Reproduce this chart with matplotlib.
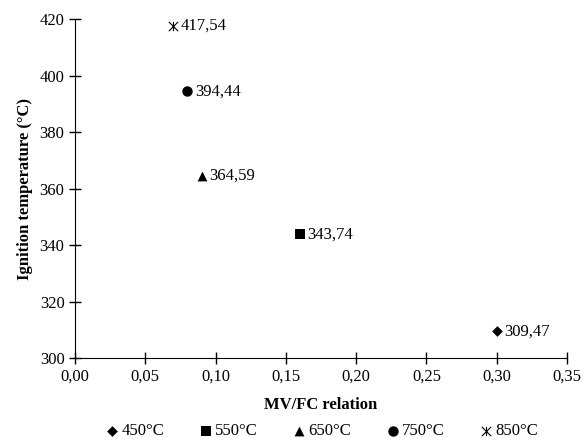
import matplotlib
matplotlib.use('Agg')
import matplotlib.pyplot as plt
from matplotlib.path import Path
from matplotlib.ticker import FuncFormatter, MultipleLocator

# Data
temps = ['450°C', '550°C', '650°C', '750°C', '850°C']
mv_fc = [0.30, 0.16, 0.09, 0.08, 0.07]
ignition = [309.47, 343.74, 364.59, 394.44, 417.54]

# X with a vertical bar, like the asterisk used for 850°C
star = Path([(-1, -1), (1, 1), (-1, 1), (1, -1), (0, -1), (0, 1)],
            [Path.MOVETO, Path.LINETO] * 3)
markers = ['D', 's', '^', 'o', star]
sizes = [30, 48, 50, 56, 45]

plt.rcParams['font.family'] = ['Liberation Serif', 'DejaVu Serif']
plt.rcParams['font.size'] = 12

fig = plt.figure(figsize=(5.83, 4.38), dpi=100)
ax = fig.add_axes([0.1286, 0.1826, 0.844, 0.774])

for i, (t, x, y) in enumerate(zip(temps, mv_fc, ignition)):
    is_star = i == len(temps) - 1
    ax.scatter(x, y, marker=markers[i], s=sizes[i], color='black',
               linewidths=0.8 if is_star else 0, label=t, zorder=3)
    ax.annotate(f'{y:.2f}'.replace('.', ','), (x, y), xytext=(5.5, 0),
                textcoords='offset points', va='center', ha='left', fontsize=12)

ax.set_xlim(0, 0.35)
ax.set_ylim(300, 420)
ax.xaxis.set_major_locator(MultipleLocator(0.05))
ax.yaxis.set_major_locator(MultipleLocator(20))
ax.xaxis.set_major_formatter(FuncFormatter(lambda v, p: f'{v:.2f}'.replace('.', ',')))
ax.yaxis.set_major_formatter(FuncFormatter(lambda v, p: f'{v:.0f}'))
ax.tick_params(direction='inout', length=9, width=1, labelsize=12, pad=3)

ax.spines['top'].set_visible(False)
ax.spines['right'].set_visible(False)

ax.set_xlabel('MV/FC relation', fontweight='bold', fontsize=12, labelpad=9)
ax.set_ylabel('Ignition temperature (°C)', fontweight='bold', fontsize=12, labelpad=5)

ax.legend(loc='center', bbox_to_anchor=(0.5, -0.215), ncol=5, frameon=False,
          handletextpad=0.05, columnspacing=2.0, handlelength=1.0, fontsize=12)

fig.savefig('out.png', dpi=100)
